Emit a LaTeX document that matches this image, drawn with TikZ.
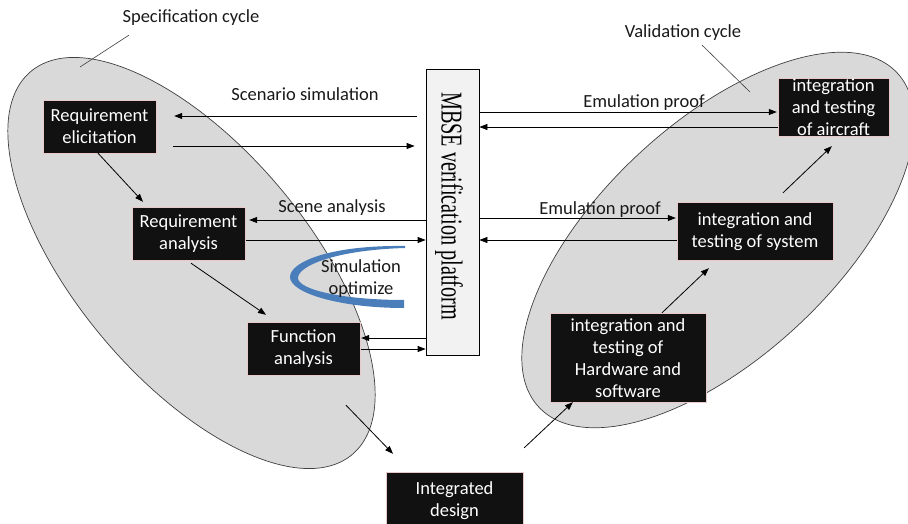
\documentclass[tikz,border=0pt]{standalone}
\usepackage{fontspec}
\setmainfont{Carlito}
\newfontfamily\serifface{Liberation Serif}
\usetikzlibrary{arrows.meta,calc}

\definecolor{cyclefill}{HTML}{D9D9D9}
\definecolor{cycleline}{HTML}{404040}
\definecolor{boxfill}{HTML}{111111}
\definecolor{boxedge}{HTML}{E8C8C8}
\definecolor{platfill}{HTML}{F2F2F2}
\definecolor{ribbon}{HTML}{4A7EBB}

\begin{document}
\begin{tikzpicture}[x=1pt,y=-1pt,
  cycleshape/.style={fill=cyclefill,draw=cycleline,line width=0.7pt},
  blk/.style={fill=boxfill,draw=boxedge,line width=0.4pt,inner sep=0pt},
  blktext/.style={text=white,align=center,inner sep=0pt,
    font=\fontsize{18.5}{22}\selectfont},
  lbl/.style={inner sep=0pt,text=black!90,align=center,
    font=\fontsize{18.5}{22}\selectfont},
  arr/.style={-{Triangle[length=8pt,width=6pt]},line width=0.8pt},
  pointer/.style={draw=cycleline,line width=0.6pt}]

\useasboundingbox (0,0) rectangle (908,524);

% the two cycles
\path[cycleshape,shift={(191.5,263)},rotate=-50]
  (0,0) ellipse [x radius=250pt,y radius=116pt];
\path[cycleshape,shift={(718,240)},rotate=43]
  (0,0) ellipse [x radius=245pt,y radius=117pt];

% verification platform
\node[draw=black,fill=platfill,line width=0.8pt,inner sep=0pt,
  minimum width=53pt,minimum height=286pt] (mbse) at (452.5,212) {};
\node[rotate=-90,inner sep=0pt,font=\serifface\fontsize{20.2}{24}\selectfont]
  (mbsetext) at (449,206) {\scalebox{1}[1.5]{MBSE verification platform}};

% process boxes
\node[blk,minimum width=113pt,minimum height=53pt] (elic) at (99.5,126.5) {};
\node[blktext] (elict) at (elic) {Requirement\\elicitation};
\node[blk,minimum width=113pt,minimum height=53pt] (ana) at (188.5,233.5) {};
\node[blktext] (anat) at (ana) {Requirement\\analysis};
\node[blk,minimum width=113pt,minimum height=53pt] (func) at (303.5,348.5) {};
\node[blktext] (funct) at (func) {Function\\analysis};
\node[blk,minimum width=137pt,minimum height=56pt] (des) at (454.5,500) {};
\node[blktext] (dest) at (454.5,500.5) {Integrated\\design};
\node[blk,minimum width=156pt,minimum height=89pt] (hw) at (628,357.5) {};
\node[blktext] (hwt) at (628,358) {integration and\\testing of\\Hardware and\\software};
\node[blk,minimum width=156pt,minimum height=58pt] (sys) at (755,231) {};
\node[blktext] (syst) at (755,231.5) {integration and\\testing of system};
\node[blk,minimum width=111pt,minimum height=58pt] (air) at (833.5,107) {};
\node[blktext] (airt) at (833.5,107.5) {integration\\and testing\\of aircraft};

% simulation loop ribbon
\fill[ribbon] (405,246) .. controls (330,245) and (290,262) .. (290,277)
  .. controls (290,293) and (340,308) .. (404,308) -- (404,300)
  .. controls (345,300) and (298,290) .. (298,278)
  .. controls (298,266) and (335,250) .. (405,248) -- cycle;
\node[lbl] (simopt) at (361,278.5) {Simulation\\optimize};

% labels
\node[lbl] (speclbl) at (191,18) {Specification cycle};
\node[lbl] (vallbl) at (683,33) {Validation cycle};
\coordinate (specmark) at (80,67);
\coordinate (valmark) at (750,92);
\draw[pointer] ($(speclbl.south)+(-62,9)$) -- (specmark);
\draw[pointer] ($(vallbl.south)+(19,4)$) -- (valmark);

\node[lbl] (scensim) at (305,94) {Scenario simulation};
\node[lbl] (scenana) at (332,208) {Scene analysis};
\node[lbl] (emu1) at (644,103) {Emulation proof};
\node[lbl] (emu2) at (600,210) {Emulation proof};

% exchanges with the platform
\draw[arr] ($(mbse.west |- elic.east)+(-9,-10.5)$) -- ($(elic.east)+(18,-10.5)$);
\draw[arr] ($(elic.east)+(17,19.5)$) -- ($(mbse.west |- elic.east)+(-11,19.5)$);
\draw[arr] ($(mbse.west |- ana.east)+(0,-13.5)$) -- ($(ana.east)+(4,-13.5)$);
\draw[arr] ($(ana.east)+(1,6.5)$) -- ($(mbse.west |- ana.east)+(0,6.5)$);
\draw[arr] ($(mbse.west |- func.east)+(0,-10.5)$) -- ($(func.east)+(1,-10.5)$);
\draw[arr] ($(func.east)+(1,0.5)$) -- ($(mbse.west |- func.east)+(0,0.5)$);
\draw[arr] ($(mbse.east |- air.west)+(0,5)$) -- ($(air.west)+(-1,5)$);
\draw[arr] ($(air.west)+(0,20)$) -- ($(mbse.east |- air.west)+(0,20)$);
\draw[arr] ($(mbse.east |- sys.west)+(0,-13)$) -- ($(sys.west)+(-1,-13)$);
\draw[arr] ($(sys.west)+(0,9)$) -- ($(mbse.east |- sys.west)+(0,9)$);

% V-flow
\draw[arr] ($(elic.south)+(-1.5,0)$) -- ($(ana.north)+(-45.5,-5)$);
\draw[arr] ($(ana.south)+(2.5,3)$) -- ($(func.north)+(-37.5,-7)$);
\draw[arr] ($(func.south)+(42.5,30)$) -- ($(des.north)+(-61.5,-18)$);
\draw[arr] ($(des.north east)+(1,-24)$) -- ($(hw.south west)+(23,0)$);
\draw[arr] ($(hw.north)+(34,0)$) -- ($(sys.south west)+(32,8)$);
\draw[arr] ($(sys.north)+(28,-9)$) -- ($(air.south west)+(54,10)$);
\end{tikzpicture}
\end{document}
